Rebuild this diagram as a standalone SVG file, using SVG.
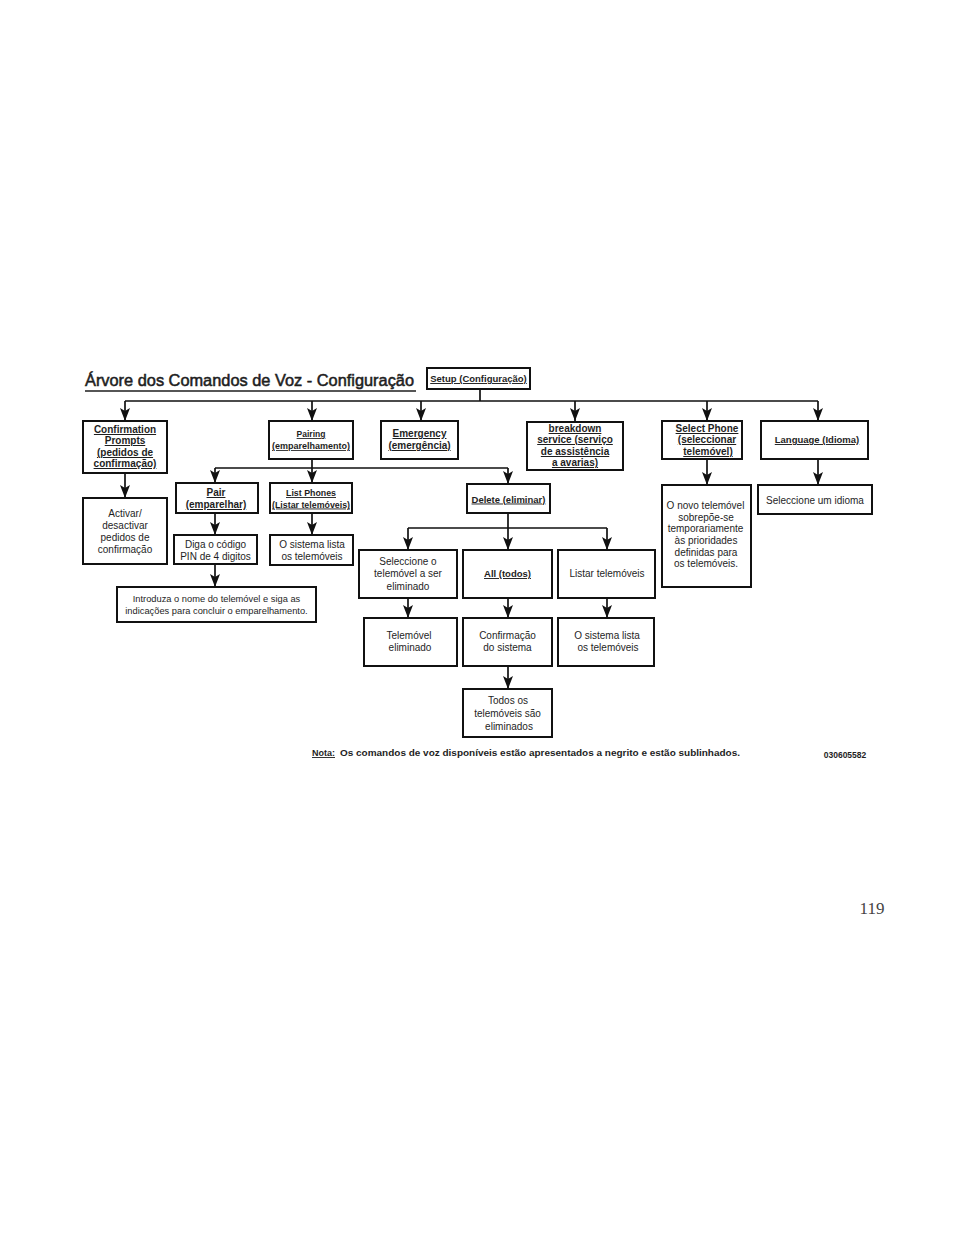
<svg xmlns="http://www.w3.org/2000/svg" width="960" height="1242" viewBox="0 0 960 1242">
<defs>
<marker id="ah" viewBox="0 0 13 10" refX="13" refY="5" markerWidth="13" markerHeight="10" markerUnits="userSpaceOnUse" orient="auto">
<path d="M0,0 L13,5 L0,10 L3,5 z" fill="#111"/>
</marker>
<style>
.box{fill:#fff;stroke:#111;stroke-width:2}
.ln{fill:none;stroke:#111;stroke-width:1.7}
.ar{fill:none;stroke:#111;stroke-width:1.7;marker-end:url(#ah)}
text{font-family:"Liberation Sans",Arial,sans-serif;fill:#1e1e1e;text-anchor:middle}
.cmd{font-weight:bold;font-size:10px;text-decoration:underline}
.cmds{font-weight:bold;font-size:9.5px;text-decoration:underline}
.desc{font-size:10px}
</style>
</defs>
<rect width="960" height="1242" fill="#fff"/>

<g id="title">
<text x="85" y="386" style="text-anchor:start;font-size:17px;stroke:#1e1e1e;stroke-width:0.55" textLength="329" lengthAdjust="spacingAndGlyphs">Árvore dos Comandos de Voz - Configuração</text>
<line x1="85" y1="391" x2="416" y2="391" stroke="#1e1e1e" stroke-width="1.5"/>
</g>

<g id="connectors">
<path class="ln" d="M480,389 V401 M125,401 H818"/>
<path class="ar" d="M125,401 V421"/>
<path class="ar" d="M312,401 V421"/>
<path class="ar" d="M421,401 V421"/>
<path class="ar" d="M575,401 V421"/>
<path class="ar" d="M707,401 V421"/>
<path class="ar" d="M818,401 V421"/>
<path class="ar" d="M125,473 V498"/>
<path class="ln" d="M312,459 V468 M215,468 H508"/>
<path class="ar" d="M215,468 V483"/>
<path class="ar" d="M312,468 V483"/>
<path class="ar" d="M508,468 V484"/>
<path class="ar" d="M215,513 V535"/>
<path class="ar" d="M215,564 V587"/>
<path class="ar" d="M312,513 V535"/>
<path class="ln" d="M508,513 V528 M408,528 H607"/>
<path class="ar" d="M408,528 V550"/>
<path class="ar" d="M508,528 V550"/>
<path class="ar" d="M607,528 V550"/>
<path class="ar" d="M408,598 V618"/>
<path class="ar" d="M508,598 V618"/>
<path class="ar" d="M607,598 V618"/>
<path class="ar" d="M508,666 V689"/>
<path class="ar" d="M707,459 V485"/>
<path class="ar" d="M818,459 V485"/>
</g>

<g id="setup">
<rect class="box" x="427" y="368" width="103" height="21"/>
<text class="cmds" x="478.5" y="382">Setup (Configuração)</text>
</g>

<g id="confirmation">
<rect class="box" x="83" y="421" width="84" height="52"/>
<text class="cmd" x="125" y="433">Confirmation</text>
<text class="cmd" x="125" y="444">Prompts</text>
<text class="cmd" x="125" y="456">(pedidos de</text>
<text class="cmd" x="125" y="467">confirmação)</text>
</g>

<g id="pairing">
<rect class="box" x="269" y="421" width="84" height="38"/>
<text class="cmd" x="311" y="437" style="font-size:8.5px">Pairing</text>
<text class="cmd" x="311" y="449" style="font-size:8.5px" textLength="78" lengthAdjust="spacingAndGlyphs">(emparelhamento)</text>
</g>

<g id="emergency">
<rect class="box" x="381" y="421" width="77" height="38"/>
<text class="cmd" x="419.5" y="437">Emergency</text>
<text class="cmd" x="419.5" y="449">(emergência)</text>
</g>

<g id="breakdown">
<rect class="box" x="527" y="422" width="96" height="48"/>
<text class="cmd" x="575" y="432">breakdown</text>
<text class="cmd" x="575" y="443">service (serviço</text>
<text class="cmd" x="575" y="455">de assistência</text>
<text class="cmd" x="575" y="466">a avarias)</text>
</g>

<g id="selectphone">
<rect class="box" x="662" y="421" width="80" height="38"/>
<text class="cmd" x="707" y="432">Select Phone</text>
<text class="cmd" x="707" y="443">(seleccionar</text>
<text class="cmd" x="708" y="455">telemóvel)</text>
</g>

<g id="language">
<rect class="box" x="761" y="421" width="107" height="38"/>
<text class="cmds" x="817" y="443">Language (Idioma)</text>
</g>

<g id="activar">
<rect class="box" x="83" y="498" width="84" height="66"/>
<text class="desc" x="125" y="517">Activar/</text>
<text class="desc" x="125" y="529">desactivar</text>
<text class="desc" x="125" y="541">pedidos de</text>
<text class="desc" x="125" y="553">confirmação</text>
</g>

<g id="pair">
<rect class="box" x="176" y="483" width="82" height="30"/>
<text class="cmd" x="216" y="496">Pair</text>
<text class="cmd" x="216" y="508">(emparelhar)</text>
</g>

<g id="listphones">
<rect class="box" x="270" y="483" width="82" height="30"/>
<text class="cmd" x="311" y="496" style="font-size:9px" textLength="50" lengthAdjust="spacingAndGlyphs">List Phones</text>
<text class="cmd" x="311" y="507.5" style="font-size:9px" textLength="78" lengthAdjust="spacingAndGlyphs">(Listar telemóveis)</text>
</g>

<g id="diga">
<rect class="box" x="174" y="535" width="83" height="29"/>
<text class="desc" x="215.5" y="548">Diga o código</text>
<text class="desc" x="215.5" y="559.5">PIN de 4 digitos</text>
</g>

<g id="sistemalista1">
<rect class="box" x="270" y="535" width="83" height="30"/>
<text class="desc" x="312" y="548">O sistema lista</text>
<text class="desc" x="312" y="559.5">os telemóveis</text>
</g>

<g id="introduza">
<rect class="box" x="117" y="587" width="199" height="35"/>
<text x="216.5" y="601.5" style="font-size:9.3px">Introduza o nome do telemóvel e siga as</text>
<text x="216.5" y="613.5" style="font-size:9.3px">indicações para concluir o emparelhamento.</text>
</g>

<g id="delete">
<rect class="box" x="467" y="484" width="83" height="29"/>
<text class="cmds" x="508.5" y="502.5">Delete (eliminar)</text>
</g>

<g id="seleccione">
<rect class="box" x="359" y="550" width="98" height="48"/>
<text class="desc" x="408" y="565">Seleccione o</text>
<text class="desc" x="408" y="577">telemóvel a ser</text>
<text class="desc" x="408" y="589.5">eliminado</text>
</g>

<g id="all">
<rect class="box" x="463" y="550" width="89" height="48"/>
<text class="cmds" x="507.5" y="577">All (todos)</text>
</g>

<g id="listar">
<rect class="box" x="558" y="550" width="97" height="48"/>
<text class="desc" x="607" y="577">Listar telemóveis</text>
</g>

<g id="telemovel">
<rect class="box" x="364" y="618" width="93" height="48"/>
<text class="desc" x="409" y="638.5">Telemóvel</text>
<text class="desc" x="410" y="651">eliminado</text>
</g>

<g id="confirmacao">
<rect class="box" x="463" y="618" width="89" height="48"/>
<text class="desc" x="507.5" y="638.5">Confirmação</text>
<text class="desc" x="507.5" y="651">do sistema</text>
</g>

<g id="sistemalista2">
<rect class="box" x="558" y="618" width="96" height="48"/>
<text class="desc" x="607" y="638.5">O sistema lista</text>
<text class="desc" x="608" y="651">os telemóveis</text>
</g>

<g id="todos">
<rect class="box" x="463" y="689" width="89" height="48"/>
<text class="desc" x="508" y="704">Todos os</text>
<text class="desc" x="507.5" y="716.5">telemóveis são</text>
<text class="desc" x="509" y="729.5">eliminados</text>
</g>

<g id="novo">
<rect class="box" x="662" y="485" width="89" height="102"/>
<text class="desc" x="705.5" y="509">O novo telemóvel</text>
<text class="desc" x="706" y="520.5">sobrepõe-se</text>
<text class="desc" x="705.5" y="532">temporariamente</text>
<text class="desc" x="706" y="544">às prioridades</text>
<text class="desc" x="706" y="555.5">definidas para</text>
<text class="desc" x="706" y="567">os telemóveis.</text>
</g>

<g id="idioma">
<rect class="box" x="758" y="485" width="114" height="29"/>
<text class="desc" x="815" y="504">Seleccione um idioma</text>
</g>

<g id="footer">
<text x="312" y="756" style="text-anchor:start;font-size:9px;font-weight:bold;text-decoration:underline">Nota:</text>
<text x="340" y="756" style="text-anchor:start;font-size:9px;font-weight:bold" textLength="400" lengthAdjust="spacingAndGlyphs">Os comandos de voz disponíveis estão apresentados a negrito e estão sublinhados.</text>
<text x="845" y="758" style="font-size:8.5px;font-weight:bold">030605582</text>
<text x="872" y="914" style="font-family:'Liberation Serif',serif;font-size:17px;fill:#444">119</text>
</g>
</svg>
